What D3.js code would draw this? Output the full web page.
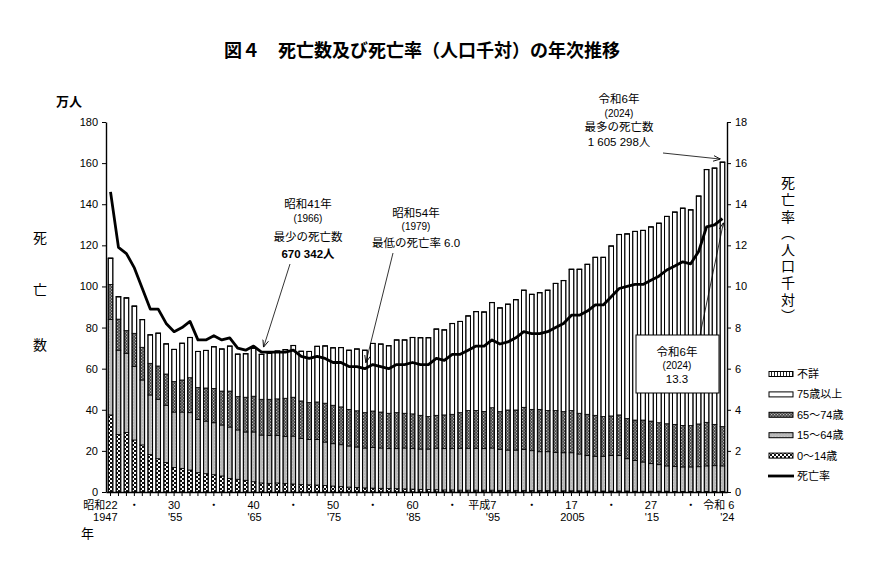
<!DOCTYPE html>
<html>
<head>
<meta charset="utf-8">
<script src="https://cdn.jsdelivr.net/npm/d3@7"></script>
<style>
  body { margin: 0; background: #fff; }
  svg text { font-family: "Liberation Sans", "Noto Sans CJK JP", sans-serif; fill: #000; }
</style>
</head>
<body>
<div id="chart"></div>
<script>
// Deaths (万人) and death rate (per 1,000) by year, 1947 (昭和22) - 2024 (令和6)
const years = d3.range(1947, 2025);

const totalDeaths = [
  113.8, 95.1, 94.5, 90.5, 83.9, 76.5, 77.3, 72.1, 69.4, 72.4,
  75.2, 68.4, 68.9, 70.7, 69.6, 71.0, 67.1, 67.3, 70.0, 67.0,
  67.5, 68.6, 69.3, 71.3, 68.5, 68.4, 70.9, 71.1, 70.2, 70.3,
  69.0, 69.6, 69.0, 72.3, 72.0, 71.2, 74.0, 74.0, 75.2, 75.1,
  75.1, 79.3, 78.9, 82.0, 83.0, 85.7, 87.8, 87.6, 92.2, 89.6,
  91.4, 93.6, 98.2, 96.2, 97.0, 98.2, 101.5, 102.9, 108.4, 108.4,
  110.8, 114.2, 114.2, 119.7, 125.3, 125.6, 126.8, 127.3, 129.0, 130.8,
  134.1, 136.2, 138.1, 137.3, 144.0, 156.9, 157.6, 160.5
];

const deathRate = [
  14.6, 11.9, 11.6, 10.9, 9.9, 8.9, 8.9, 8.2, 7.8, 8.0,
  8.3, 7.4, 7.4, 7.6, 7.4, 7.5, 7.0, 6.9, 7.1, 6.8,
  6.8, 6.8, 6.8, 6.9, 6.6, 6.5, 6.6, 6.5, 6.3, 6.3,
  6.1, 6.1, 6.0, 6.2, 6.1, 6.0, 6.2, 6.2, 6.3, 6.2,
  6.2, 6.5, 6.4, 6.7, 6.7, 6.9, 7.1, 7.1, 7.4, 7.2,
  7.3, 7.5, 7.8, 7.7, 7.7, 7.8, 8.0, 8.2, 8.6, 8.6,
  8.8, 9.1, 9.1, 9.5, 9.9, 10.0, 10.1, 10.1, 10.3, 10.5,
  10.8, 11.0, 11.2, 11.1, 11.7, 12.9, 13.0, 13.3
];

const age0to14 = [
  37.5, 28.0, 29.0, 25.3, 22.9, 18.2, 16.2, 14.3, 11.9, 11.5,
  10.7, 9.4, 8.9, 8.4, 7.8, 6.6, 6.2, 5.7, 5.0, 4.4,
  4.2, 4.4, 4.1, 3.9, 3.6, 3.5, 3.4, 3.2, 2.9, 2.6,
  2.4, 2.2, 2.0, 1.9, 1.8, 1.7, 1.6, 1.5, 1.4, 1.3,
  1.2, 1.1, 1.0, 1.0, 0.9, 0.9, 0.9, 0.9, 0.9, 0.8,
  0.8, 0.8, 0.8, 0.7, 0.7, 0.7, 0.6, 0.6, 0.6, 0.6,
  0.5, 0.5, 0.5, 0.5, 0.5, 0.5, 0.4, 0.4, 0.4, 0.4,
  0.4, 0.3, 0.3, 0.3, 0.3, 0.3, 0.3, 0.3
];

const age15to64 = [
  46.5, 41.0, 38.5, 35.7, 31.6, 29.0, 28.9, 27.9, 27.0, 27.4,
  27.9, 25.9, 25.6, 25.3, 24.8, 25.0, 24.0, 23.5, 24.2, 23.3,
  23.3, 23.1, 23.0, 23.3, 22.4, 22.0, 22.1, 21.1, 20.6, 20.4,
  20.0, 19.7, 19.4, 19.7, 19.6, 19.4, 19.5, 19.9, 19.7, 19.6,
  19.7, 20.2, 20.1, 20.1, 20.4, 20.4, 20.4, 20.2, 20.5, 20.0,
  19.6, 19.6, 20.0, 19.4, 18.9, 18.9, 18.7, 18.5, 18.5, 17.9,
  17.3, 16.9, 16.9, 17.3, 17.3, 15.7, 15.0, 14.2, 13.4, 12.9,
  12.3, 12.2, 11.9, 11.9, 12.0, 12.4, 12.5, 12.4
];

const age65to74 = [
  17.0, 15.1, 11.0, 16.2, 15.9, 15.4, 16.2, 15.2, 14.8, 15.6,
  17.0, 15.5, 16.1, 16.7, 16.5, 17.5, 16.2, 16.9, 17.4, 17.4,
  17.6, 17.8, 18.5, 18.9, 18.3, 18.0, 18.3, 18.9, 18.7, 18.4,
  17.8, 17.6, 17.2, 17.8, 17.5, 17.2, 17.5, 16.9, 16.9, 16.4,
  15.8, 16.0, 16.4, 16.7, 17.3, 18.3, 18.3, 18.1, 19.6, 18.3,
  19.5, 19.5, 20.4, 20.1, 20.6, 20.0, 20.3, 20.0, 20.5, 19.8,
  20.0, 19.9, 19.3, 19.2, 19.7, 19.5, 19.6, 20.4, 20.7, 20.4,
  20.5, 20.4, 20.2, 20.1, 20.8, 21.2, 20.1, 19.1
];

const age75plus = [
  12.6, 10.8, 15.8, 13.1, 13.4, 13.8, 15.9, 14.6, 15.6, 17.8,
  19.5, 17.5, 18.2, 20.2, 20.4, 21.8, 20.6, 21.1, 23.3, 21.8,
  22.3, 23.2, 23.6, 25.1, 24.1, 24.8, 27.0, 27.8, 27.9, 28.8,
  28.7, 30.0, 30.3, 32.8, 33.0, 32.8, 35.3, 35.6, 37.1, 37.7,
  38.3, 41.9, 41.3, 44.1, 44.3, 46.0, 48.1, 48.3, 51.1, 50.4,
  51.4, 53.6, 56.9, 55.9, 56.7, 58.5, 61.8, 63.7, 68.7, 70.0,
  72.9, 76.8, 77.4, 82.6, 87.7, 89.8, 91.7, 92.2, 94.4, 97.0,
  100.8, 103.2, 105.6, 104.9, 110.8, 122.9, 124.6, 128.6
];

const ageUnknown = [
  0.2, 0.2, 0.2, 0.2, 0.1, 0.1, 0.1, 0.1, 0.1, 0.1,
  0.1, 0.1, 0.1, 0.1, 0.1, 0.1, 0.1, 0.1, 0.1, 0.1,
  0.1, 0.1, 0.1, 0.1, 0.1, 0.1, 0.1, 0.1, 0.1, 0.1,
  0.1, 0.1, 0.1, 0.1, 0.1, 0.1, 0.1, 0.1, 0.1, 0.1,
  0.1, 0.1, 0.1, 0.1, 0.1, 0.1, 0.1, 0.1, 0.1, 0.1,
  0.1, 0.1, 0.1, 0.1, 0.1, 0.1, 0.1, 0.1, 0.1, 0.1,
  0.1, 0.1, 0.1, 0.1, 0.1, 0.1, 0.1, 0.1, 0.1, 0.1,
  0.1, 0.1, 0.1, 0.1, 0.1, 0.1, 0.1, 0.1
];

// x axis labels: era year on top row, western year below
const tickYears  = [1947, 1950, 1955, 1960, 1965, 1970, 1975, 1980, 1985, 1990, 1995, 2000, 2005, 2010, 2015, 2020, 2024];
const tickTop    = ["昭和22", "・", "30", "・", "40", "・", "50", "・", "60", "・", "平成7", "・", "17", "・", "27", "・", "令和 6"];
const tickBottom = ["1947", "", "'55", "", "'65", "", "'75", "", "'85", "", "'95", "", "2005", "", "'15", "", "'24"];

const leftTicks = d3.range(0, 181, 20);
const rightTicks = d3.range(0, 19, 2);

const legendLabels = ["不詳", "75歳以上", "65～74歳", "15～64歳", "0～14歳", "死亡率"];

const noteMin = ["昭和41年", "(1966)", "最少の死亡数", "670 342人"];
const noteLowRate = ["昭和54年", "(1979)", "最低の死亡率 6.0"];
const noteMax = ["令和6年", "(2024)", "最多の死亡数", "1 605 298人"];
const noteRate = ["令和6年", "(2024)", "13.3"];

// ---------------------------------------------------------------
const W = 890, H = 562;
const svg = d3.select("#chart").append("svg")
  .attr("width", W).attr("height", H);

const defs = svg.append("defs");

// fills for the age groups
function pattern(id, size, draw) {
  const p = defs.append("pattern")
    .attr("id", id)
    .attr("patternUnits", "userSpaceOnUse")
    .attr("width", size).attr("height", size);
  draw(p);
}
pattern("p-child", 4, p => {
  p.append("rect").attr("width", 4).attr("height", 4).attr("fill", "#fff");
  p.append("rect").attr("width", 2).attr("height", 2).attr("fill", "#111");
  p.append("rect").attr("x", 2).attr("y", 2).attr("width", 2).attr("height", 2).attr("fill", "#111");
});
pattern("p-work", 3, p => {
  p.append("rect").attr("width", 3).attr("height", 3).attr("fill", "#b9b9b9");
  p.append("rect").attr("x", 1).attr("y", 1).attr("width", 1).attr("height", 1).attr("fill", "#c8c8c8");
});
pattern("p-old", 3, p => {
  p.append("rect").attr("width", 3).attr("height", 3).attr("fill", "#474747");
  p.append("rect").attr("width", 1.2).attr("height", 1.2).attr("fill", "#bdbdbd");
  p.append("rect").attr("x", 1.5).attr("y", 1.5).attr("width", 1.2).attr("height", 1.2).attr("fill", "#bdbdbd");
});
pattern("p-unk", 3, p => {
  p.append("rect").attr("width", 3).attr("height", 3).attr("fill", "#fff");
  p.append("rect").attr("width", 1).attr("height", 3).attr("fill", "#222");
});

defs.append("marker")
  .attr("id", "arrow")
  .attr("viewBox", "0 0 10 10")
  .attr("refX", 10).attr("refY", 5)
  .attr("markerWidth", 9).attr("markerHeight", 9)
  .attr("orient", "auto")
  .append("path")
  .attr("d", "M0,1 L10,5 L0,9")
  .attr("fill", "none")
  .attr("stroke", "#000")
  .attr("stroke-width", 1.2);

const keys = ["c0", "c15", "c65", "c75", "unk"];
const fills = {
  c0: "url(#p-child)", c15: "url(#p-work)", c65: "url(#p-old)",
  c75: "#fff", unk: "url(#p-unk)"
};

const rows = years.map((yr, i) => ({
  year: yr,
  c0: age0to14[i], c15: age15to64[i], c65: age65to74[i],
  c75: age75plus[i], unk: ageUnknown[i],
  total: totalDeaths[i], rate: deathRate[i]
}));

// scales
const x = d3.scaleBand()
  .domain(years)
  .range([106, 727])
  .paddingInner(0.42)
  .paddingOuter(0.28);

const y = d3.scaleLinear().domain([0, 180]).range([492, 122]);
const yRate = d3.scaleLinear().domain([0, 18]).range([492, 122]);
const cx = yr => x(yr) + x.bandwidth() / 2;

// title
svg.append("text")
  .attr("x", 422).attr("y", 57)
  .attr("text-anchor", "middle")
  .attr("font-size", "18px")
  .attr("font-weight", "bold")
  .text("図４　死亡数及び死亡率（人口千対）の年次推移");

// stacked bars
const stacked = d3.stack().keys(keys)(rows);

svg.append("g")
  .selectAll("g")
  .data(stacked)
  .join("g")
  .attr("fill", d => fills[d.key])
  .selectAll("rect")
  .data(d => d)
  .join("rect")
  .attr("x", d => x(d.data.year))
  .attr("width", x.bandwidth())
  .attr("y", d => y(d[1]))
  .attr("height", d => Math.max(0, y(d[0]) - y(d[1])))
  .attr("stroke", "#000")
  .attr("stroke-width", 0.8);

// bar outlines
svg.append("g")
  .selectAll("rect")
  .data(rows)
  .join("rect")
  .attr("x", d => x(d.year))
  .attr("width", x.bandwidth())
  .attr("y", d => y(d.total))
  .attr("height", d => y(0) - y(d.total))
  .attr("fill", "none")
  .attr("stroke", "#000")
  .attr("stroke-width", 1);

// axes
const axisLeft = svg.append("g")
  .attr("transform", "translate(106,0)")
  .call(d3.axisLeft(y).tickValues(leftTicks).tickSize(4).tickSizeOuter(0));

const axisRight = svg.append("g")
  .attr("transform", "translate(727,0)")
  .call(d3.axisRight(yRate).tickValues(rightTicks).tickSize(4).tickSizeOuter(0));

const axisBottom = svg.append("g")
  .attr("transform", "translate(0,492)")
  .call(d3.axisBottom(x).tickSize(4).tickSizeOuter(0).tickFormat(""));

[axisLeft, axisRight, axisBottom].forEach(g => {
  g.select(".domain").attr("stroke", "#000").attr("stroke-width", 1.4);
  g.selectAll(".tick line").attr("stroke", "#000").attr("stroke-width", 1);
  g.selectAll(".tick text")
    .attr("font-size", "11px")
    .attr("fill", "#000")
    .style("font-family", "Liberation Sans, Noto Sans CJK JP, sans-serif");
});
axisLeft.selectAll(".tick text").attr("x", -8);
axisRight.selectAll(".tick text").attr("x", 8);

// x labels
const xl = svg.append("g").attr("font-size", "11px");
tickYears.forEach((yr, i) => {
  const top = tickTop[i];
  const era = /^[^0-9・]/.test(top);
  const last = i === tickYears.length - 1;
  const px = cx(yr);
  const anchor = era || last ? "end" : "middle";
  const ex = last ? px + 12 : (era ? px + (top.length > 3 && yr === 1947 ? 7 : 4.5) : px);
  xl.append("text")
    .attr("x", ex).attr("y", 509)
    .attr("text-anchor", anchor)
    .text(top);
  if (tickBottom[i]) {
    xl.append("text")
      .attr("x", last ? px + 12 : (yr === 1947 ? px + 7 : px + 1))
      .attr("y", 521)
      .attr("text-anchor", last || yr === 1947 ? "end" : "middle")
      .text(tickBottom[i]);
  }
});

svg.append("text")
  .attr("x", 81).attr("y", 538)
  .attr("font-size", "13px")
  .text("年");

// axis titles
svg.append("text")
  .attr("x", 56).attr("y", 106)
  .attr("font-size", "13px")
  .attr("font-weight", "bold")
  .text("万人");

["死", "亡", "数"].forEach((ch, i) => {
  svg.append("text")
    .attr("x", 40).attr("y", [243, 295, 350][i])
    .attr("text-anchor", "middle")
    .attr("font-size", "14px")
    .text(ch);
});

svg.append("text")
  .attr("x", 787).attr("y", 176)
  .attr("font-size", "14px")
  .style("writing-mode", "vertical-rl")
  .style("letter-spacing", "2.6px")
  .text("死亡率（人口千対）");

// death rate line
svg.append("path")
  .datum(rows)
  .attr("fill", "none")
  .attr("stroke", "#000")
  .attr("stroke-width", 2.8)
  .attr("stroke-linejoin", "round")
  .attr("d", d3.line().x(d => cx(d.year)).y(d => yRate(d.rate)));

// annotations
function note(lines, xc, ys, sizes, bold) {
  const g = svg.append("g").attr("text-anchor", "middle");
  lines.forEach((t, i) => {
    g.append("text")
      .attr("x", xc).attr("y", ys[i])
      .attr("font-size", sizes[i] + "px")
      .attr("font-weight", bold === i ? "bold" : "normal")
      .text(t);
  });
}
function arrow(x1, y1, x2, y2) {
  svg.append("line")
    .attr("x1", x1).attr("y1", y1).attr("x2", x2).attr("y2", y2)
    .attr("stroke", "#000").attr("stroke-width", 0.8)
    .attr("marker-end", "url(#arrow)");
}

const r1966 = rows.find(d => d.year === 1966);
const r1979 = rows.find(d => d.year === 1979);
const r2024 = rows.find(d => d.year === 2024);

note(noteMin, 308, [208, 222, 241, 258], [11.5, 10, 11.5, 11.5], 3);
arrow(290, 264, cx(1966) + 2, yRate(r1966.rate) - 5);

note(noteLowRate, 416, [217, 230, 247], [11.5, 10, 11.5], -1);
arrow(393, 253, cx(1979) + 1, yRate(r1979.rate) - 6);

note(noteMax, 619, [103, 117, 131, 146], [11.5, 10, 11.5, 11.5], -1);
arrow(663, 153, cx(2024) - 2, y(r2024.total) - 3);

svg.append("rect")
  .attr("x", 636).attr("y", 335)
  .attr("width", 83).attr("height", 58)
  .attr("fill", "#fff")
  .attr("stroke", "#000")
  .attr("stroke-width", 1);
note(noteRate, 677, [356, 369, 383], [11.5, 10, 11.5], -1);
arrow(700, 335, cx(2024) + 1, yRate(r2024.rate) + 4);

// legend
const legendFills = ["url(#p-unk)", "#fff", "url(#p-old)", "url(#p-work)", "url(#p-child)", null];
const lg = svg.append("g").attr("font-size", "11px");
legendLabels.forEach((label, i) => {
  const ly = 374 + i * 20.4;
  if (legendFills[i]) {
    lg.append("rect")
      .attr("x", 769).attr("y", ly - 2.5)
      .attr("width", 24).attr("height", 5)
      .attr("fill", legendFills[i])
      .attr("stroke", "#000").attr("stroke-width", 1);
  } else {
    lg.append("line")
      .attr("x1", 768).attr("x2", 794)
      .attr("y1", ly).attr("y2", ly)
      .attr("stroke", "#000").attr("stroke-width", 2.8);
  }
  lg.append("text")
    .attr("x", 797).attr("y", ly + 4)
    .text(label);
});
</script>
</body>
</html>
